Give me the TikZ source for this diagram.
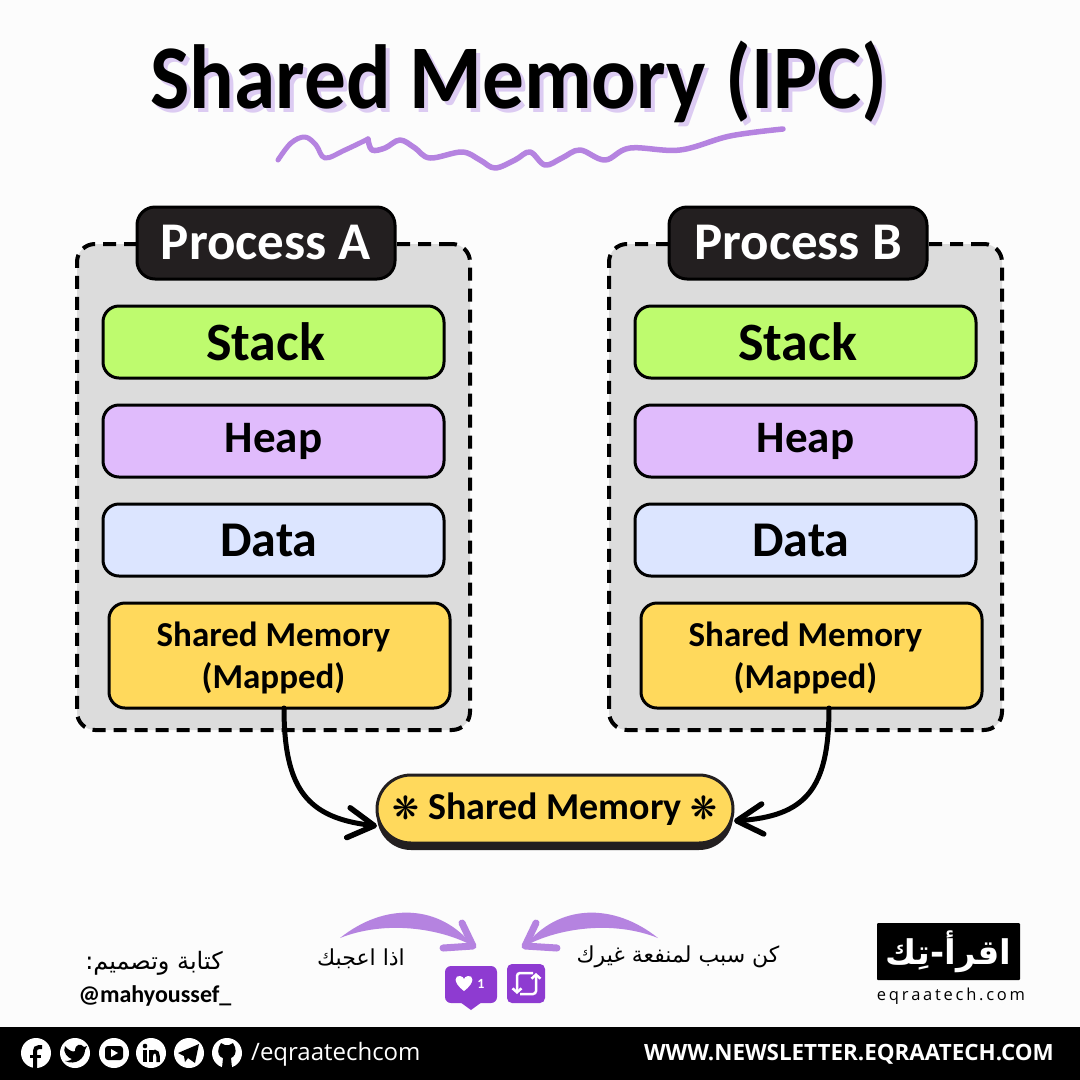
\documentclass[tikz,border=0pt]{standalone}
\usepackage{fontspec}
\usetikzlibrary{arrows.meta}
\setmainfont{Carlito}
\newfontfamily\titlefont[FakeStretch=0.915]{Carlito}
\newfontfamily\arabicfont[Script=Arabic]{DejaVu Sans}
\newfontfamily\flowerfont{DejaVu Sans}
\newfontfamily\footfont{Open Sans}
\TeXXeTstate=1
\definecolor{inkdark}{HTML}{231F20}
\definecolor{lilac}{HTML}{B583E0}
\definecolor{lilacsoft}{HTML}{DCCBF2}
\definecolor{likepurple}{HTML}{8E3BD1}
\definecolor{boxgray}{HTML}{DCDCDC}
\definecolor{stackgreen}{HTML}{BEFB6E}
\definecolor{heappurple}{HTML}{E0BBFC}
\definecolor{datablue}{HTML}{DCE5FF}
\definecolor{sharedyellow}{HTML}{FFD95C}
\tikzset{
  segment/.style={draw=black, line width=3pt, rounded corners=16pt, minimum width=341pt, minimum height=72pt, inner sep=0pt, outer sep=0pt, align=center},
  linkarrow/.style={line width=5pt, line cap=round, -{Straight Barb[length=26pt,width=30pt,line width=5.5pt,round]}},
  handarrow/.style={draw=lilac, line width=7pt, line cap=round, line join=round},
  icondisc/.style={fill=white, circle, minimum size=30pt, inner sep=0pt},
  arabiclabel/.style={font=\arabicfont\fontsize{22}{24}\selectfont, inner sep=0pt}
}
\begin{document}
\begin{tikzpicture}[x=1pt, y=-1pt]
\useasboundingbox (0,0) rectangle (1080,1080);
\fill[white!99!black] (0,0) rectangle (1080,1080);

% Title
\node[lilacsoft, font=\titlefont\bfseries\fontsize{91}{96}\selectfont, inner sep=0pt] (titleshade) at (523,86) {Shared Memory (IPC)};
\node[black, font=\titlefont\bfseries\fontsize{91}{96}\selectfont, inner sep=0pt] (title) at (519,82) {Shared Memory (IPC)};
\draw[lilac, line width=5pt, line cap=round, line join=round] plot[smooth, tension=0.6] coordinates {(278,160) (291,143) (305,137) (316,145) (325,158) (345,150) (368,139)};
\draw[lilac, line width=5.5pt, line cap=round, line join=round] plot[smooth, tension=0.6] coordinates {(368,139) (372,150) (385,148) (400,140) (415,148) (430,158) (462,152) (480,160) (495,168) (515,160) (530,152) (545,165) (562,158) (580,150) (605,160) (630,148) (680,150) (730,136) (783,129)};

% Process A and Process B
\foreach \pname/\dx in {A/0, B/532} {
  \begin{scope}[xshift=\dx pt]
    \node[draw=black, fill=boxgray, line width=4pt, dash pattern=on 13pt off 8pt, rounded corners=18pt, minimum width=393pt, minimum height=486pt, inner sep=0pt, outer sep=0pt] (frame\pname) at (273.5,487) {};
    \node[draw=black, fill=inkdark, text=white, line width=3pt, rounded corners=18pt, minimum width=258pt, minimum height=72pt, inner sep=0pt, font=\bfseries\fontsize{53}{56}\selectfont] (label\pname) at (266,243) {Process \pname};
    \node[segment, fill=stackgreen, font=\bfseries\fontsize{54}{56}\selectfont] (stack\pname) at (273.5,342) {\hspace*{-16pt}Stack};
    \node[segment, fill=heappurple, font=\bfseries\fontsize{45}{48}\selectfont] (heap\pname) at (273.5,441) {Heap};
    \node[segment, fill=datablue, font=\bfseries\fontsize{50}{52}\selectfont] (data\pname) at (273.5,540) {\hspace*{-9pt}Data};
    \node[segment, fill=sharedyellow, minimum height=105pt, font=\bfseries\fontsize{35}{41}\selectfont] (mapped\pname) at (279.5,655.5) {\hspace*{-12pt}\rule{0pt}{30pt}Shared Memory\\[1pt]\hspace*{-12pt}(Mapped)};
  \end{scope}
}

% Shared pool
\node[fill=inkdark, rounded corners=34pt, minimum width=356pt, minimum height=70pt, inner sep=0pt] (poolshade) at (555,815) {};
\node[draw=inkdark, fill=sharedyellow, line width=3pt, rounded corners=34pt, minimum width=356pt, minimum height=68pt, inner sep=0pt, outer sep=0pt, font=\bfseries\fontsize{38}{44}\selectfont] (pool) at (555,809) {\raisebox{-3pt}{{\flowerfont\fontsize{32}{32}\selectfont ❋} Shared Memory {\flowerfont\fontsize{32}{32}\selectfont ❋}}};

\coordinate (startA) at (284,708);
\coordinate (startB) at (829,708);
\coordinate (endA) at (377,826);
\coordinate (endB) at (734,821);
\draw[linkarrow] (startA) .. controls (284,790) and (308,818) .. (endA);
\draw[linkarrow] (startB) .. controls (829,790) and (805,816) .. (endB);

% Hand drawn arrows
\coordinate (likefrom) at (340,938);
\coordinate (liketo) at (473,946);
\coordinate (sharefrom) at (658,938);
\coordinate (shareto) at (525,946);
\fill[lilac] (likefrom) .. controls (385,902) and (440,904) .. (liketo) .. controls (440,928) and (385,920) .. (likefrom);
\draw[handarrow] (462,923) -- (liketo) -- (443,948);
\fill[lilac] (sharefrom) .. controls (613,902) and (558,904) .. (shareto) .. controls (558,928) and (613,920) .. (sharefrom);
\draw[handarrow] (536,923) -- (shareto) -- (557,948);

% Like and share icons
\fill[likepurple, rounded corners=6pt] (445,966) rectangle (497,1003);
\fill[likepurple] (460,1002) -- (471,1010) -- (482,1002) -- cycle;
\fill[white] (464,991) .. controls (452,982) and (455,975) .. (460,976) .. controls (462,976) and (464,978) .. (464,979) .. controls (464,978) and (466,976) .. (468,976) .. controls (473,975) and (476,982) .. (464,991) -- cycle;
\node[white, inner sep=0pt, font=\bfseries\fontsize{14}{14}\selectfont] (likecount) at (481,984) {1};
\fill[likepurple, rounded corners=5pt] (507,964) rectangle (545,1003);
\draw[white, line width=2.5pt, rounded corners=3pt, -{Straight Barb[length=4pt,width=9pt]}] (533,973) -- (517,973) -- (517,994);
\draw[white, line width=2.5pt, rounded corners=3pt, -{Straight Barb[length=4pt,width=9pt]}] (520,994) -- (536,994) -- (536,973);

% Arabic captions
\node[arabiclabel, font=\arabicfont\fontsize{24}{26}\selectfont] (credit) at (154,963) {\beginR كتابة وتصميم:\endR};
\node[font=\bfseries\fontsize{24}{26}\selectfont, inner sep=0pt] (handle) at (155,996) {@mahyoussef\_};
\node[arabiclabel] (likenote) at (361,959) {\beginR اذا اعجبك\endR};
\node[arabiclabel] (sharenote) at (678,957) {\beginR كن سبب لمنفعة غيرك\endR};

% Logo
\node[fill=black, text=white, minimum width=143pt, minimum height=57pt, inner sep=0pt, rounded corners=1pt, font=\arabicfont\bfseries\fontsize{34}{37}\selectfont] (logo) at (948.5,951.5) {\beginR اقرأ-تِك\endR};
\node[font=\footfont\fontsize{16.5}{18}\selectfont, inner sep=0pt] (logotext) at (951,996) {e\,q\,r\,a\,a\,t\,e\,c\,h\,.\,c\,o\,m};

% Footer
\fill[black] (0,1027) rectangle (1080,1080);
\node[icondisc] (facebook) at (36,1053) {};
\node[icondisc] (twitter) at (75,1053) {};
\node[icondisc] (youtube) at (114,1053) {};
\node[icondisc] (linkedin) at (151,1053) {};
\node[icondisc] (telegram) at (189,1053) {};
\node[icondisc] (github) at (227,1053) {};
% f
\draw[black, line width=4pt] (42,1047) -- (39,1047) .. controls (36,1047) and (35,1049) .. (35,1051) -- (35,1068);
\draw[black, line width=3pt] (30,1056) -- (41,1056);
% bird
\fill[black] (65,1046) .. controls (70,1052) and (74,1052) .. (75,1051) .. controls (75,1044) and (81,1043) .. (84,1047) -- (87,1046) -- (85,1050) .. controls (85,1058) and (76,1066) .. (65,1061) .. controls (69,1061) and (71,1060) .. (72,1059) .. controls (68,1058) and (62,1052) .. (65,1046) -- cycle;
% play
\fill[black, rounded corners=3pt] (105,1046) rectangle (123,1060);
\fill[white] (111,1049) -- (118,1053) -- (111,1057) -- cycle;
% in
\fill[black] (143,1050) rectangle (147,1062);
\fill[black] (145,1046) circle (2.3pt);
\draw[black, line width=3.5pt] (151,1062) -- (151,1050);
\draw[black, line width=3.5pt] (151,1056) .. controls (152,1050) and (158,1050) .. (158,1056) -- (158,1062);
% plane
\fill[black] (178,1053) -- (199,1044) -- (195,1063) -- (188,1058) -- (185,1062) -- (184,1056) -- cycle;
% cat
\fill[black] (219,1047) -- (221,1043) -- (225,1045) -- (229,1045) -- (233,1043) -- (235,1047) .. controls (237,1053) and (234,1057) .. (231,1058) -- (232,1068) -- (222,1068) -- (223,1058) .. controls (219,1057) and (217,1053) .. (219,1047) -- cycle;
\node[white, anchor=west, inner sep=0pt, font=\footfont\fontsize{24}{26}\selectfont] (social) at (251,1054) {/eqraatechcom};
\node[white, anchor=east, inner sep=0pt, font=\footfont\bfseries\fontsize{22.4}{25}\selectfont] (site) at (1054,1054) {WWW.NEWSLETTER.EQRAATECH.COM};
\end{tikzpicture}
\end{document}
